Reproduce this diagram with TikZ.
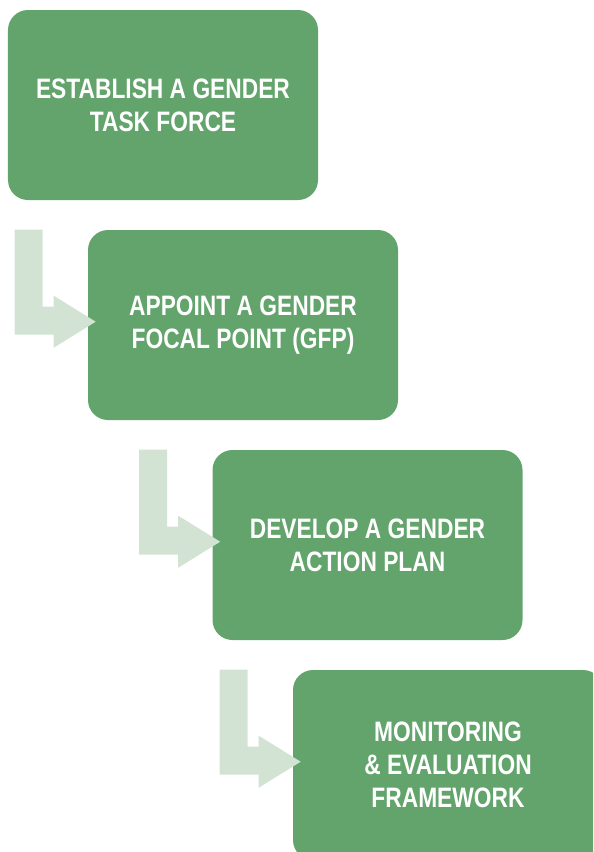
\documentclass[tikz,border=0pt]{standalone}
\usepackage{fontspec}
\setmainfont{Liberation Sans}[FakeStretch=0.81]
\usepackage{tikz}
\usetikzlibrary{positioning, calc}
\definecolor{colorStep}{HTML}{62A46B}
\definecolor{colorArrow}{HTML}{D2E3D4}
\tikzset{stepbox/.style={rectangle, rounded corners=0.5cm, fill=colorStep, minimum width=7.75cm, minimum height=4.75cm, align=center, text=white, font=\fontsize{20}{23.5}\selectfont\bfseries}}
\newcommand{\bentarrow}[1]{\fill[colorArrow] ($(#1.north west)+(-1.825,0)$) -- ++(0.7,0) -- ++(0,-1.925) -- ++(0.275,0) -- ++(0,0.275) -- ++(1.05,-0.65) -- ++(-1.05,-0.65) -- ++(0,0.325) -- ++(-0.975,0) -- cycle;}

\begin{document}
\begin{tikzpicture}
\useasboundingbox (0,0) rectangle (14.825,-21.3);
\clip (0,0) rectangle (14.825,-21.3);
\node[stepbox] (gtf) at (4.075,-2.625) {ESTABLISH A GENDER\\TASK FORCE};
\node[stepbox] (gfp) at (6.075,-8.125) {APPOINT A GENDER\\FOCAL POINT (GFP)};
\node[stepbox] (gap) at (9.1875,-13.625) {DEVELOP A GENDER\\ACTION PLAN};
\node[stepbox] (mef) at (11.2,-19.125) {MONITORING\\\& EVALUATION\\FRAMEWORK};
% arrows between the steps
\bentarrow{gfp}
\bentarrow{gap}
\bentarrow{mef}
\end{tikzpicture}
\end{document}
